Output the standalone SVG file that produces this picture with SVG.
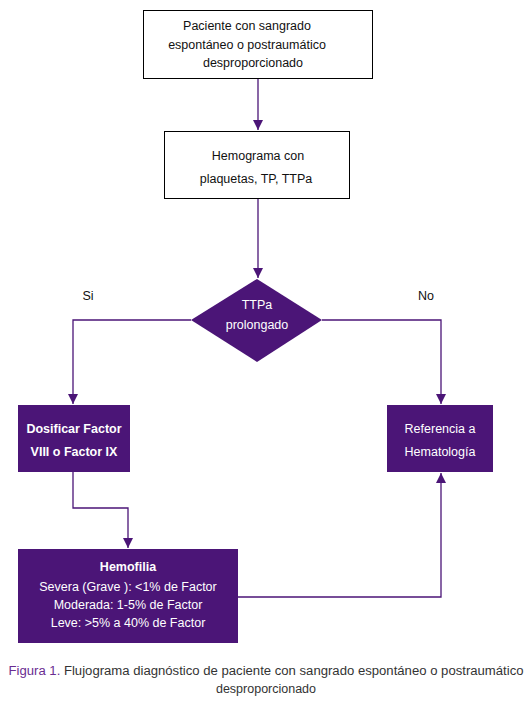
<svg xmlns="http://www.w3.org/2000/svg" width="530" height="701" viewBox="0 0 530 701">
<defs>
<style>
.wbox{fill:#fff;stroke:#000;stroke-width:1}
.pbox{fill:#4b1577}
.t{font-family:"Liberation Sans",Arial,sans-serif;font-size:12.5px;fill:#111;text-anchor:middle}
.w{font-family:"Liberation Sans",Arial,sans-serif;font-size:12.5px;fill:#fff;text-anchor:middle}
.b{font-weight:bold}
.con{fill:none;stroke:#4b1577;stroke-width:1.3}
.cap{font-family:"Liberation Sans",Arial,sans-serif;font-size:12.5px;fill:#333;text-anchor:middle}
</style>
<marker id="ah" viewBox="0 0 10 10" refX="10" refY="5" markerWidth="10" markerHeight="10" markerUnits="userSpaceOnUse" orient="auto">
<path d="M0,0 L10,5 L0,10 z" fill="#4b1577"/>
</marker>
</defs>
<rect width="530" height="701" fill="#fff"/>
<g id="connectors">
<path class="con" d="M258,79 V130" marker-end="url(#ah)"/>
<path class="con" d="M258,199 V278" marker-end="url(#ah)"/>
<path class="con" d="M191,320 H73 V404" marker-end="url(#ah)"/>
<path class="con" d="M322,320 H441 V404" marker-end="url(#ah)"/>
<path class="con" d="M73,472 V508 H128 V548" marker-end="url(#ah)"/>
<path class="con" d="M238,597 H441 V473" marker-end="url(#ah)"/>
<text class="t" x="88" y="300">Si</text>
<text class="t" x="426" y="300">No</text>
</g>
<g id="n1">
<rect class="wbox" x="143.5" y="10.5" width="229" height="68"/>
<text class="t" x="247" y="30">Paciente con sangrado</text>
<text class="t" x="247" y="49">espontáneo o postraumático</text>
<text class="t" x="253" y="67">desproporcionado</text>
</g>
<g id="n2">
<rect class="wbox" x="164.5" y="131.5" width="185" height="67"/>
<text class="t" x="258" y="160">Hemograma con</text>
<text class="t" x="256" y="183">plaquetas, TP,  TTPa</text>
</g>
<g id="n3">
<polygon class="pbox" points="257,279 322,320 257,362 191,320"/>
<text class="w" x="257" y="309">TTPa</text>
<text class="w" x="257" y="329">prolongado</text>
</g>
<g id="n4">
<rect class="pbox" x="18" y="405" width="112" height="67"/>
<text class="w b" x="74" y="433">Dosificar Factor</text>
<text class="w b" x="74" y="456">VIII o Factor IX</text>
</g>
<g id="n5">
<rect class="pbox" x="387" y="405" width="106" height="67"/>
<text class="w" x="440" y="433">Referencia a</text>
<text class="w" x="440" y="456">Hematología</text>
</g>
<g id="n6">
<rect class="pbox" x="18" y="549" width="220" height="94"/>
<text class="w b" x="128" y="571">Hemofilia</text>
<text class="w" x="128" y="591">Severa (Grave  ): &lt;1% de Factor</text>
<text class="w" x="128" y="609">Moderada: 1-5% de Factor</text>
<text class="w" x="128" y="627">Leve: &gt;5%  a  40%  de Factor</text>
</g>
<g id="caption">
<text class="cap" x="266" y="675" textLength="515" lengthAdjust="spacingAndGlyphs"><tspan fill="#6a2c91">Figura 1.</tspan> Flujograma diagnóstico de paciente con sangrado espontáneo o postraumático</text>
<text class="cap" x="266" y="693">desproporcionado</text>
</g>
</svg>
